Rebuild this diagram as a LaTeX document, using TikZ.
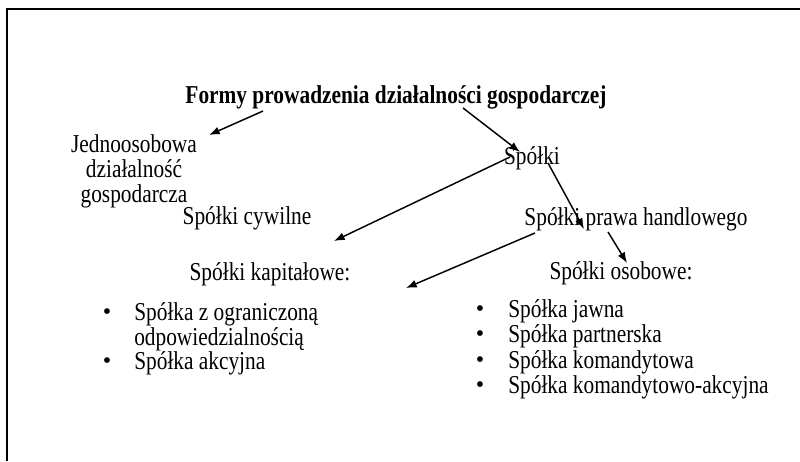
\documentclass[tikz,border=0pt]{standalone}
\usepackage{fontspec}
\setmainfont[FakeStretch=0.83]{Liberation Serif}
\newfontfamily\bulfont{Liberation Serif}
\usetikzlibrary{arrows.meta}
\newcommand\myfnt{\fontsize{19.3}{18.75}\selectfont}
\begin{document}
\begin{tikzpicture}[x=0.75pt,y=-0.75pt,
  txt/.style={inner sep=0pt,anchor=base,font=\myfnt},
  ltxt/.style={txt,anchor=base west},
  bul/.style={inner sep=0pt,anchor=center,font=\bulfont\fontsize{18}{18}\selectfont},
  arr/.style={line width=1.1pt,-{Latex[length=8pt,width=6pt]}},
  frame/.style={line width=1.6pt}]
\useasboundingbox (0,0) rectangle (800,461);
% frame (cropped box)
\coordinate (fA) at (7,461);
\coordinate (fB) at (7,9);
\coordinate (fC) at (800,9);
\draw[frame] (fA) -- (fB) -- (fC);
% texts
\node[txt,font=\myfnt\bfseries] (title) at (396,103) {Formy prowadzenia działalności gospodarczej};
\node[txt] (jedno1) at (134,152) {Jednoosobowa};
\node[txt] (jedno2) at (134,177) {działalność};
\node[txt] (jedno3) at (134,202) {gospodarcza};
\node[txt] (spolki) at (532,164) {Spółki};
\node[txt] (cyw) at (247,224) {Spółki cywilne};
\node[txt] (handl) at (636,225) {Spółki prawa handlowego};
\node[txt] (kap) at (270,280) {Spółki kapitałowe:};
\node[txt] (oso) at (621,279) {Spółki osobowe:};
% left list
\node[bul] (lb1) at (107,314) {•};
\node[ltxt] (l1a) at (134,320) {Spółka z ograniczoną};
\node[ltxt] (l1b) at (134,345) {odpowiedzialnością};
\node[bul] (lb2) at (107,363) {•};
\node[ltxt] (l2) at (134,369) {Spółka akcyjna};
% right list
\node[bul] (rb1) at (480,311) {•};
\node[ltxt] (r1) at (508,317) {Spółka jawna};
\node[bul] (rb2) at (480,336) {•};
\node[ltxt] (r2) at (508,342) {Spółka partnerska};
\node[bul] (rb3) at (480,362) {•};
\node[ltxt] (r3) at (508,368) {Spółka komandytowa};
\node[bul] (rb4) at (480,387) {•};
\node[ltxt] (r4) at (508,393) {Spółka komandytowo-akcyjna};
% arrow end points
\coordinate (a1s) at (263,111); \coordinate (a1e) at (209,135);
\coordinate (a2s) at (463,108); \coordinate (a2e) at (520,152);
\coordinate (a3s) at (510,157); \coordinate (a3e) at (334,241);
\coordinate (a4s) at (548,163); \coordinate (a4e) at (584,229);
\coordinate (a5s) at (535,233); \coordinate (a5e) at (406,288);
\coordinate (a6s) at (608,232); \coordinate (a6e) at (627,263);
\draw[arr] (a1s) -- (a1e);
\draw[arr] (a2s) -- (a2e);
\draw[arr] (a3s) -- (a3e);
\draw[arr] (a4s) -- (a4e);
\draw[arr] (a5s) -- (a5e);
\draw[arr] (a6s) -- (a6e);
\end{tikzpicture}
\end{document}
